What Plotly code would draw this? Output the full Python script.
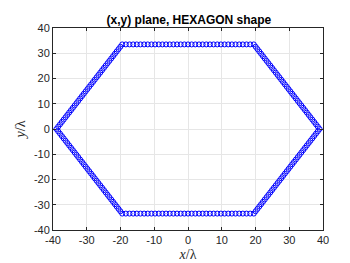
import numpy as np
import plotly.graph_objects as go

# Hexagon vertices, in units of wavelength
vertex_x = [39.0, 19.5, -19.5, -39.0, -19.5, 19.5, 39.0]
vertex_y = [0.0, 33.5, 33.5, 0.0, -33.5, -33.5, 0.0]
points_per_edge = 36

xs, ys = [], []
for i in range(len(vertex_x) - 1):
    t = np.arange(points_per_edge) / points_per_edge
    xs.extend(vertex_x[i] + (vertex_x[i + 1] - vertex_x[i]) * t)
    ys.extend(vertex_y[i] + (vertex_y[i + 1] - vertex_y[i]) * t)

tick_vals = [-40, -30, -20, -10, 0, 10, 20, 30, 40]
tick_text = ["-40", "-30", "-20", "-10", "0", "10", "20", "30", "40"]

fig = go.Figure()
fig.add_trace(go.Scatter(
    x=xs, y=ys, mode="markers",
    marker=dict(symbol="circle-open", size=5, color="#0000ff", line=dict(width=1, color="#0000ff")),
    showlegend=False,
))

axis_common = dict(
    tickvals=tick_vals, ticktext=tick_text, showgrid=True, gridcolor="#e6e6e6", gridwidth=1,
    zeroline=False, showline=True, linecolor="#262626", linewidth=1, mirror="ticks",
    ticks="inside", ticklen=3, tickcolor="#262626",
    tickfont=dict(family="Liberation Sans, Arial", size=11, color="#262626"),
)
fig.update_xaxes(range=[-40, 40], title=dict(text="<i>x</i>/λ", font=dict(family="Liberation Serif, serif", size=14, color="#262626"), standoff=3), **axis_common)
fig.update_yaxes(range=[-40, 40], title=dict(text="<i>y</i>/λ", font=dict(family="Liberation Serif, serif", size=14, color="#262626"), standoff=4), **axis_common)

fig.update_layout(
    width=350, height=263,
    margin=dict(l=45, r=35, t=20, b=33),
    paper_bgcolor="white", plot_bgcolor="white",
    title=dict(text="<b>(x,y) plane, HEXAGON shape</b>", x=0.517, xanchor="center", y=0.955, yanchor="middle",
               font=dict(family="Liberation Sans, Arial", size=12, color="#000000")),
)
fig.write_html("out.html")
